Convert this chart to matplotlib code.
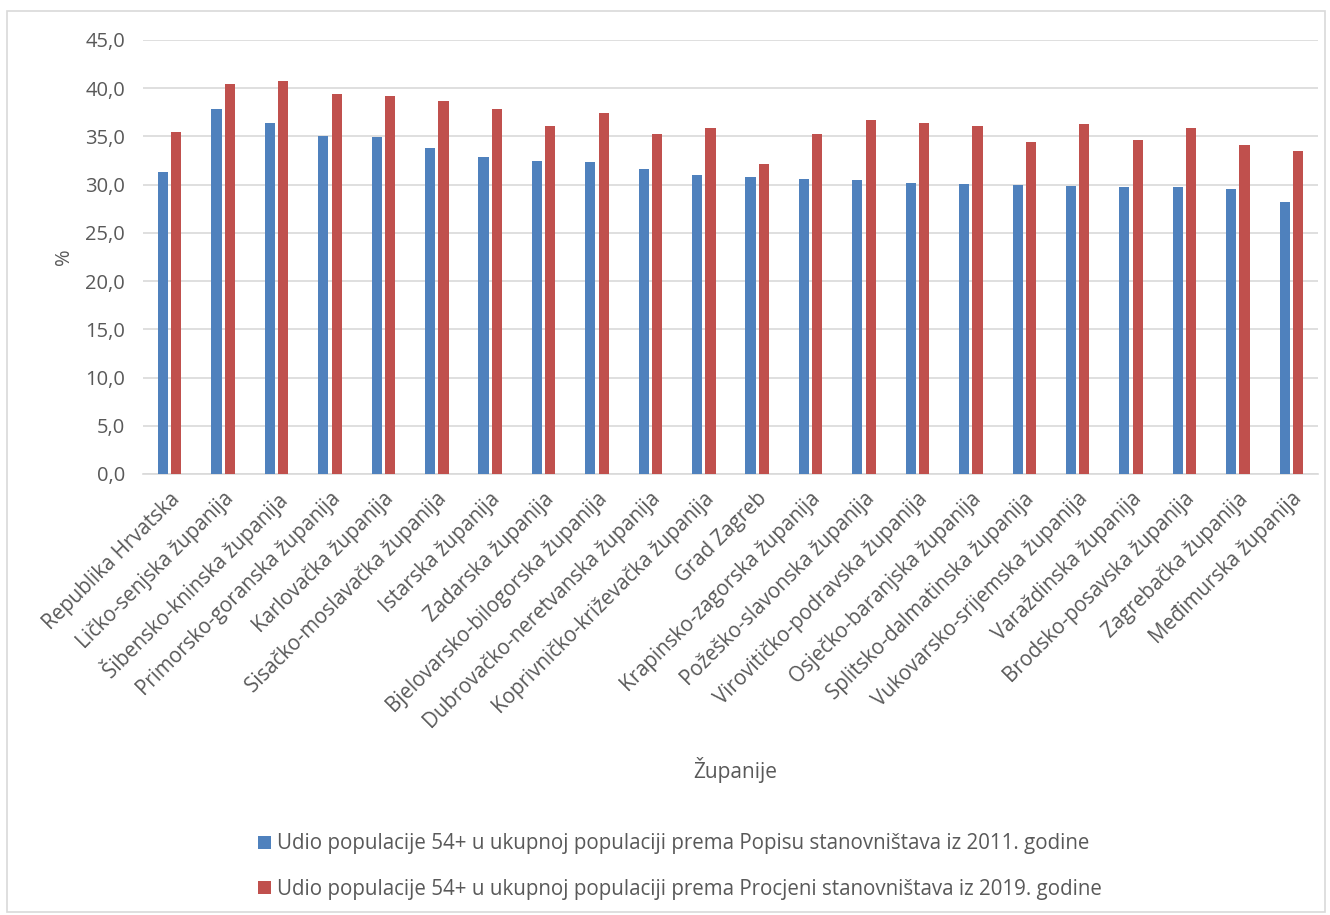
import numpy as np
import matplotlib.pyplot as plt
import matplotlib.transforms as mtransforms
from matplotlib.patches import Rectangle
from matplotlib.ticker import FuncFormatter

plt.rcParams['font.family'] = ['Open Sans', 'DejaVu Sans']

zupanije = ["Republika Hrvatska", "Ličko-senjska županija", "Šibensko-kninska županija",
            "Primorsko-goranska županija", "Karlovačka županija", "Sisačko-moslavačka županija",
            "Istarska županija", "Zadarska županija", "Bjelovarsko-bilogorska županija",
            "Dubrovačko-neretvanska županija", "Koprivničko-križevačka županija", "Grad Zagreb",
            "Krapinsko-zagorska županija", "Požeško-slavonska županija", "Virovitičko-podravska županija",
            "Osječko-baranjska županija", "Splitsko-dalmatinska županija", "Vukovarsko-srijemska županija",
            "Varaždinska županija", "Brodsko-posavska županija", "Zagrebačka županija",
            "Međimurska županija"]

popis_2011 = [31.3, 37.8, 36.4, 35.0, 34.9, 33.8, 32.9, 32.5, 32.3, 31.6, 31.0,
              30.8, 30.6, 30.5, 30.2, 30.1, 30.0, 29.9, 29.8, 29.8, 29.5, 28.2]
procjena_2019 = [35.5, 40.4, 40.8, 39.4, 39.2, 38.7, 37.8, 36.1, 37.4, 35.3, 35.9,
                 32.1, 35.3, 36.7, 36.4, 36.1, 34.4, 36.3, 34.6, 35.9, 34.1, 33.5]

label_2011 = "Udio populacije 54+ u ukupnoj populaciji prema Popisu stanovništava iz 2011. godine"
label_2019 = "Udio populacije 54+ u ukupnoj populaciji prema Procjeni stanovništava iz 2019. godine"

text_col = "#595959"
fs = 14.5
fig = plt.figure(figsize=(13.3, 9.15), dpi=100)
ax = fig.add_axes([143 / 1330, 1 - 474 / 915, (1318 - 143) / 1330, (474 - 40) / 915])

x = np.arange(len(zupanije))
w = 0.19
ax.bar(x - 0.125, popis_2011, w, color="#4F81BD", label=label_2011, zorder=3)
ax.bar(x + 0.125, procjena_2019, w, color="#C0504D", label=label_2019, zorder=3)

ax.set_xlim(-0.5, len(zupanije) - 0.5)
ax.set_ylim(0, 45)
ax.set_yticks(np.arange(0, 46, 5))
ax.yaxis.set_major_formatter(FuncFormatter(lambda v, p: f"{v:.1f}".replace(".", ",")))
ax.grid(axis="y", color="#D9D9D9", linewidth=1.2, zorder=0)
for s in ["top", "right", "left"]:
    ax.spines[s].set_visible(False)
ax.spines["bottom"].set_color("#D9D9D9")
ax.spines["bottom"].set_linewidth(1.2)
ax.tick_params(axis="both", length=0, colors=text_col, labelsize=fs)
ax.tick_params(axis="y", pad=13)
ax.tick_params(axis="x", pad=10)
ax.set_xticks(x)
ax.set_xticklabels(zupanije, rotation=45, ha="right", va="center", rotation_mode="anchor",
                   fontsize=14.8)
shift = mtransforms.ScaledTranslation(7 / 100, -8 / 100, fig.dpi_scale_trans)
for lbl in ax.get_xticklabels():
    lbl.set_transform(lbl.get_transform() + shift)

ax.set_ylabel("%", color=text_col, fontsize=fs, labelpad=8)
fig.text(735 / 1330, 1 - 770 / 915, "Županije", color=text_col, fontsize=fs + 0.5, ha="center", va="center")

ax.legend(loc="upper center", bbox_to_anchor=(680 / 1330, 1 - 815 / 915), bbox_transform=fig.transFigure,
          ncol=1, frameon=False, fontsize=14.8, labelcolor=text_col, handlelength=0.6,
          handleheight=0.6, handletextpad=0.3, labelspacing=1.2)

fig.patches.append(Rectangle((7 / 1330, 0.003), 1318 / 1330, 0.985, transform=fig.transFigure,
                             fill=False, edgecolor="#D9D9D9", linewidth=1.2))

fig.savefig("out.png", dpi=100)
